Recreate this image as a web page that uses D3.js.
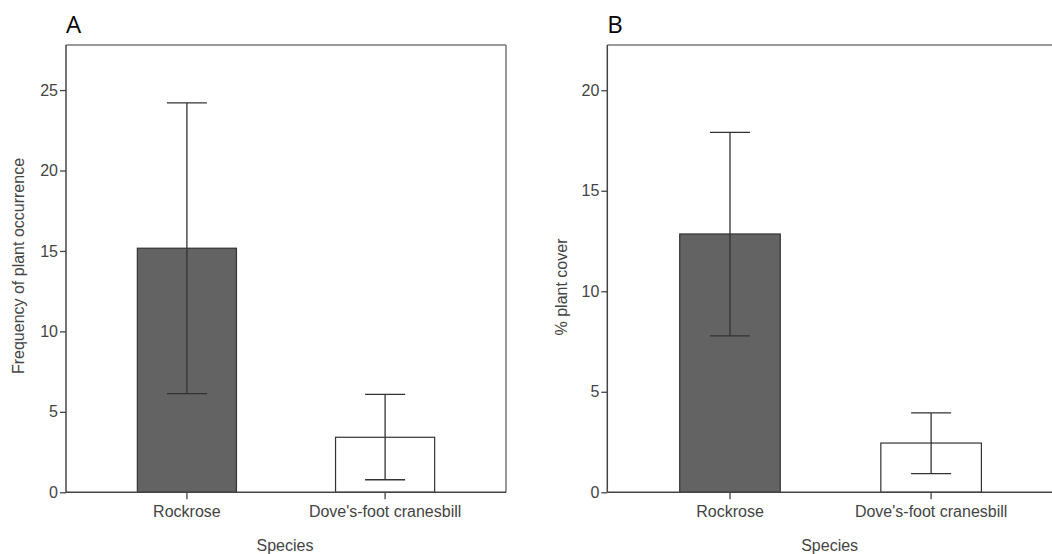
<!DOCTYPE html>
<html>
<head>
<meta charset="utf-8">
<script src="https://cdn.jsdelivr.net/npm/d3@7"></script>
<style>
  body { margin: 0; background: #fff; }
  svg { display: block; }
  .tick text { fill: #444; font-family: "Liberation Sans", Arial, sans-serif; }
</style>
</head>
<body>
<div id="chart"></div>
<script>
// Data
var categories = ["Rockrose", "Dove's-foot cranesbill"];
var barFills = ["#636363", "#ffffff"];

// Panel A: frequency of plant occurrence
var freqMean = [15.17, 3.42];
var freqLow = [6.13, 0.78];
var freqHigh = [24.2, 6.09];
var freqTicks = [0, 5, 10, 15, 20, 25];

// Panel B: % plant cover
var coverMean = [12.85, 2.45];
var coverLow = [7.78, 0.93];
var coverHigh = [17.9, 3.95];
var coverTicks = [0, 5, 10, 15, 20];

var W = 1052, H = 554;

var svg = d3.select("#chart").append("svg")
    .attr("width", W)
    .attr("height", H);

// draw one panel
function drawPanel(opt) {
  var g = svg.append("g");

  var x = d3.scaleBand()
      .domain(categories)
      .range([opt.left, opt.right])
      .paddingInner(0.5)
      .paddingOuter(0.36);

  var y = d3.scaleLinear()
      .domain([0, opt.yMax])
      .range([opt.bottom, opt.top]);

  // frame (top and right)
  g.append("line")
      .attr("x1", opt.left).attr("x2", opt.right)
      .attr("y1", opt.top).attr("y2", opt.top)
      .attr("stroke", "#777").attr("stroke-width", 1.5);
  g.append("line")
      .attr("x1", opt.right).attr("x2", opt.right)
      .attr("y1", opt.top).attr("y2", opt.bottom)
      .attr("stroke", "#777").attr("stroke-width", 1.5);

  // bars
  g.selectAll("rect.bar")
      .data(opt.mean)
    .enter().append("rect")
      .attr("class", "bar")
      .attr("x", function(d, i) { return x(categories[i]); })
      .attr("width", x.bandwidth())
      .attr("y", function(d) { return y(d); })
      .attr("height", function(d) { return y(0) - y(d); })
      .attr("fill", function(d, i) { return barFills[i]; })
      .attr("stroke", "#333")
      .attr("stroke-width", 1.2);

  // error bars
  var cx = function(i) { return x(categories[i]) + x.bandwidth() / 2; };
  var capW = 20;
  var err = g.selectAll("g.err")
      .data(opt.mean)
    .enter().append("g")
      .attr("class", "err")
      .attr("stroke", "#333")
      .attr("stroke-width", 1.3);
  err.append("line")
      .attr("x1", function(d, i) { return cx(i); })
      .attr("x2", function(d, i) { return cx(i); })
      .attr("y1", function(d, i) { return y(opt.low[i]); })
      .attr("y2", function(d, i) { return y(opt.high[i]); });
  err.append("line")
      .attr("x1", function(d, i) { return cx(i) - capW; })
      .attr("x2", function(d, i) { return cx(i) + capW; })
      .attr("y1", function(d, i) { return y(opt.high[i]); })
      .attr("y2", function(d, i) { return y(opt.high[i]); });
  err.append("line")
      .attr("x1", function(d, i) { return cx(i) - capW; })
      .attr("x2", function(d, i) { return cx(i) + capW; })
      .attr("y1", function(d, i) { return y(opt.low[i]); })
      .attr("y2", function(d, i) { return y(opt.low[i]); });

  // left axis
  var yAxis = g.append("g")
      .attr("transform", "translate(" + opt.left + ",0)")
      .call(d3.axisLeft(y).tickValues(opt.ticks).tickSize(6).tickSizeOuter(0).tickPadding(2));
  yAxis.select(".domain").attr("stroke", "#444").attr("stroke-width", 1.5)
      .attr("d", "M0," + opt.top + "V" + opt.bottom);
  yAxis.selectAll(".tick line").attr("stroke", "#444").attr("stroke-width", 1.3);
  yAxis.selectAll(".tick text").style("font-size", "16px");

  // bottom axis
  var xAxis = g.append("g")
      .attr("transform", "translate(0," + opt.bottom + ")")
      .call(d3.axisBottom(x).tickSize(7).tickSizeOuter(0).tickPadding(6));
  xAxis.select(".domain").attr("stroke", "#444").attr("stroke-width", 1.5)
      .attr("d", "M" + opt.left + ",0H" + opt.right);
  xAxis.selectAll(".tick line").attr("stroke", "#444").attr("stroke-width", 1.3);
  xAxis.selectAll(".tick text").style("font-size", "16px");

  // axis titles
  g.append("text")
      .attr("x", (opt.left + Math.min(opt.right, W)) / 2 + opt.xTitleShift)
      .attr("y", 551)
      .attr("text-anchor", "middle")
      .style("font-family", "Liberation Sans, Arial, sans-serif")
      .style("font-size", "16px")
      .attr("fill", "#444")
      .text("Species");

  g.append("text")
      .attr("transform", "translate(" + opt.yTitleX + "," + opt.yTitleY + ") rotate(-90)")
      .attr("text-anchor", "middle")
      .style("font-family", "Liberation Sans, Arial, sans-serif")
      .style("font-size", "16px")
      .attr("fill", "#444")
      .text(opt.yTitle);

  // panel letter
  g.append("text")
      .attr("x", opt.left)
      .attr("y", 33)
      .style("font-family", "Open Sans, Liberation Sans, sans-serif")
      .style("font-size", "24px")
      .attr("fill", "#000")
      .text(opt.letter);
}

drawPanel({
  letter: "A", left: 66, right: 506, top: 45, bottom: 492.3,
  yMax: 27.8, ticks: freqTicks,
  mean: freqMean, low: freqLow, high: freqHigh,
  yTitle: "Frequency of plant occurrence", yTitleX: 24, yTitleY: 266,
  xTitleShift: -1
});

drawPanel({
  letter: "B", left: 607.3, right: 1053.8, top: 45, bottom: 492.3,
  yMax: 22.25, ticks: coverTicks,
  mean: coverMean, low: coverLow, high: coverHigh,
  yTitle: "% plant cover", yTitleX: 567, yTitleY: 287,
  xTitleShift: 0
});
</script>
</body>
</html>
